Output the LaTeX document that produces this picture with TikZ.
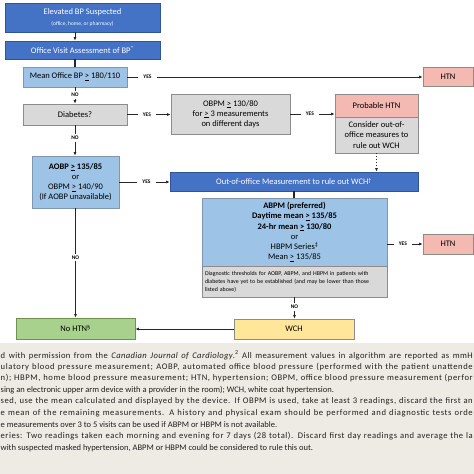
\documentclass[tikz,border=0pt]{standalone}
\usepackage{fontspec}
\setmainfont{Carlito}
\usetikzlibrary{arrows.meta}
\definecolor{dkblue}{HTML}{4472C4}
\definecolor{dkbluedraw}{HTML}{2F5597}
\definecolor{ltblue}{HTML}{9DC3E6}
\definecolor{ltbluedraw}{HTML}{7F96AE}
\definecolor{boxgrey}{HTML}{D9D9D9}
\definecolor{greydraw}{HTML}{8C8C8C}
\definecolor{boxpink}{HTML}{F4B9B1}
\definecolor{boxgreen}{HTML}{A9D18E}
\definecolor{greendraw}{HTML}{6F8F55}
\definecolor{boxyellow}{HTML}{FFE699}
\definecolor{footbg}{HTML}{EEEBE4}
\definecolor{foottext}{HTML}{231F20}
\newcommand{\gebar}{\underline{>}}
\newcommand{\fline}[2][7]{{\fontsize{8.6}{9}\selectfont\addfontfeature{LetterSpace=#1}\hbox to 472pt{#2}}}
\begin{document}
\begin{tikzpicture}[x=1pt,y=-1pt,
  sz/.style 2 args={minimum width=#1pt, minimum height=#2pt},
  base/.style={draw, line width=0.8pt, inner sep=0pt, align=center, font=\fontsize{8.5}{10.2}\selectfont},
  darkbox/.style={base, fill=dkblue, draw=dkbluedraw, text=white},
  lightbox/.style={base, fill=ltblue, draw=ltbluedraw},
  greybox/.style={base, fill=boxgrey, draw=greydraw},
  pinkbox/.style={base, fill=boxpink, draw=greydraw},
  greenbox/.style={base, fill=boxgreen, draw=greendraw},
  yellowbox/.style={base, fill=boxyellow, draw=greydraw},
  arr/.style={line width=0.9pt, draw=black!85, -{Latex[length=3.5pt,width=3pt]}},
  thickline/.style={line width=2pt, draw=black!85},
  lbl/.style={fill=white, inner xsep=5pt, inner ysep=2pt, font=\bfseries\fontsize{5.5}{6}\selectfont},
  foot/.style={anchor=west, inner sep=0pt, text=foottext, font=\fontsize{8.5}{9}\selectfont}
]
\useasboundingbox (0,0) rectangle (474,474);
\clip (0,0) rectangle (474,474);
\fill[white] (0,0) rectangle (474,474);
\fill[footbg] (0,343) rectangle (474,474);

% boxes
\node[darkbox, sz={155}{29}] (elev) at (82.5,17.5) {Elevated BP Suspected\\[0pt]{\fontsize{5.5}{6}\selectfont (office, home, or pharmacy)}};
\node[darkbox, sz={155}{18}] (office) at (82.5,50) {Office Visit Assessment of BP\textsuperscript{*}};
\node[lightbox, sz={104}{20}] (mean) at (75,77) {Mean Office BP \gebar\ 180/110};
\node[pinkbox, sz={50}{19}] (htna) at (448,76.5) {HTN};
\node[greybox, sz={104}{21}] (diab) at (75,114.5) {Diabetes?};
\node[greybox, sz={119}{40}] (obpm) at (230.5,114) {OBPM \gebar\ 130/80\\for \gebar\ 3 measurements\\on different days};
\node[pinkbox, sz={83}{23}] (prob) at (376.5,105.5) {Probable HTN};
\node[greybox, sz={83}{36}] (cons) at (376.5,135) {Consider out-of-\\office measures to\\rule out WCH};
\node[lightbox, sz={87}{52}] (aobp) at (75.5,182) {\textbf{AOBP \gebar\ 135/85}\\or\\OBPM \gebar\ 140/90\\(If AOBP unavailable)};
\node[darkbox, sz={248}{19}] (ooff) at (294,181.5) {Out-of-office Measurement to rule out WCH\textsuperscript{\dag}};
\node[lightbox, sz={185}{68}] (abpm) at (294.5,232) {\textbf{ABPM (preferred)}\\\textbf{Daytime mean \gebar\ 135/85}\\\textbf{24-hr mean \gebar\ 130/80}\\or\\HBPM Series\textsuperscript{\ddag}\\Mean \gebar\ 135/85};
\node[greybox, sz={185}{31}, align=left, text width=179pt, font=\fontsize{5.9}{8}\selectfont] (diag) at (294.5,281.5) {Diagnostic thresholds for AOBP, ABPM, and HBPM in patients with\\diabetes have yet to be established (and may be lower than those\\listed above)};
\node[pinkbox, sz={50}{20}] (htnb) at (448,244) {HTN};
\node[greenbox, sz={119}{21}] (nohtn) at (75.5,328.5) {No HTN\textsuperscript{\S}};
\node[yellowbox, sz={120}{20}] (wch) at (294,329) {WCH};

% connectors
\draw[arr] (elev.south -| mean.north) -- (office.north -| mean.north);
\draw[thickline] (office.south -| mean.north) -- (mean.north);
\draw[arr] (mean.east) -- node[lbl, pos=0.068] {YES} (mean.east -| htna.west);
\draw[arr] (mean.south) -- node[lbl, pos=0.47] {NO} (diab.north);
\draw[arr] (diab.east) -- node[lbl, pos=0.45] {YES} (diab.east -| obpm.west);
\draw[arr] (obpm.east) -- node[lbl, pos=0.44] {YES} (obpm.east -| prob.west);
\draw[arr, dotted] (cons.south) -- (cons.south |- ooff.north);
\draw[arr] (diab.south) -- node[lbl, pos=0.42] {NO} (diab.south |- aobp.north);
\draw[arr] (aobp.east) -- node[lbl, pos=0.54] {YES} (aobp.east -| ooff.west);
\draw[thickline] (ooff.south) -- (ooff.south |- abpm.north);
\draw[arr] (abpm.east |- htnb.west) -- node[lbl, pos=0.44] {YES} (htnb.west);
\draw[arr] (diag.south) -- node[lbl, pos=0.45] {NO} (diag.south |- wch.north);
\draw[arr] (aobp.south) -- node[lbl, pos=0.45] {NO} (aobp.south |- nohtn.north);
\draw[arr] (wch.west) -- (wch.west -| nohtn.east);

% footnote
\node[foot] (f1) at (0.5,355) {\fline[4]{d with permission from the \textit{Canadian Journal of Cardiology}.\textsuperscript{2} All measurement values in algorithm are reported as mmH}};
\node[foot] (f2) at (0.5,366.6) {\fline{ulatory blood pressure measurement; AOBP, automated office blood pressure (performed with the patient unattende}};
\node[foot] (f3) at (0.5,378.2) {\fline{n); HBPM, home blood pressure measurement; HTN, hypertension; OBPM, office blood pressure measurement (perfor}};
\node[foot] (f4) at (0.5,389.8) {sing an electronic upper arm device with a provider in the room); WCH, white coat hypertension.};
\node[foot] (f5) at (0.5,401.4) {\fline[6]{sed, use the mean calculated and displayed by the device. If OBPM is used, take at least 3 readings, discard the first an}};
\node[foot] (f6) at (0.5,413) {\fline{e mean of the remaining measurements. A history and physical exam should be performed and diagnostic tests orde}};
\node[foot] (f7) at (0.5,424.6) {e measurements over 3 to 5 visits can be used if ABPM or HBPM is not available.};
\node[foot] (f8) at (0.5,436.2) {\fline[6]{eries: Two readings taken each morning and evening for 7 days (28 total). Discard first day readings and average the la}};
\node[foot] (f9) at (0.5,447.8) {with suspected masked hypertension, ABPM or HBPM could be considered to rule this out.};
\end{tikzpicture}
\end{document}
